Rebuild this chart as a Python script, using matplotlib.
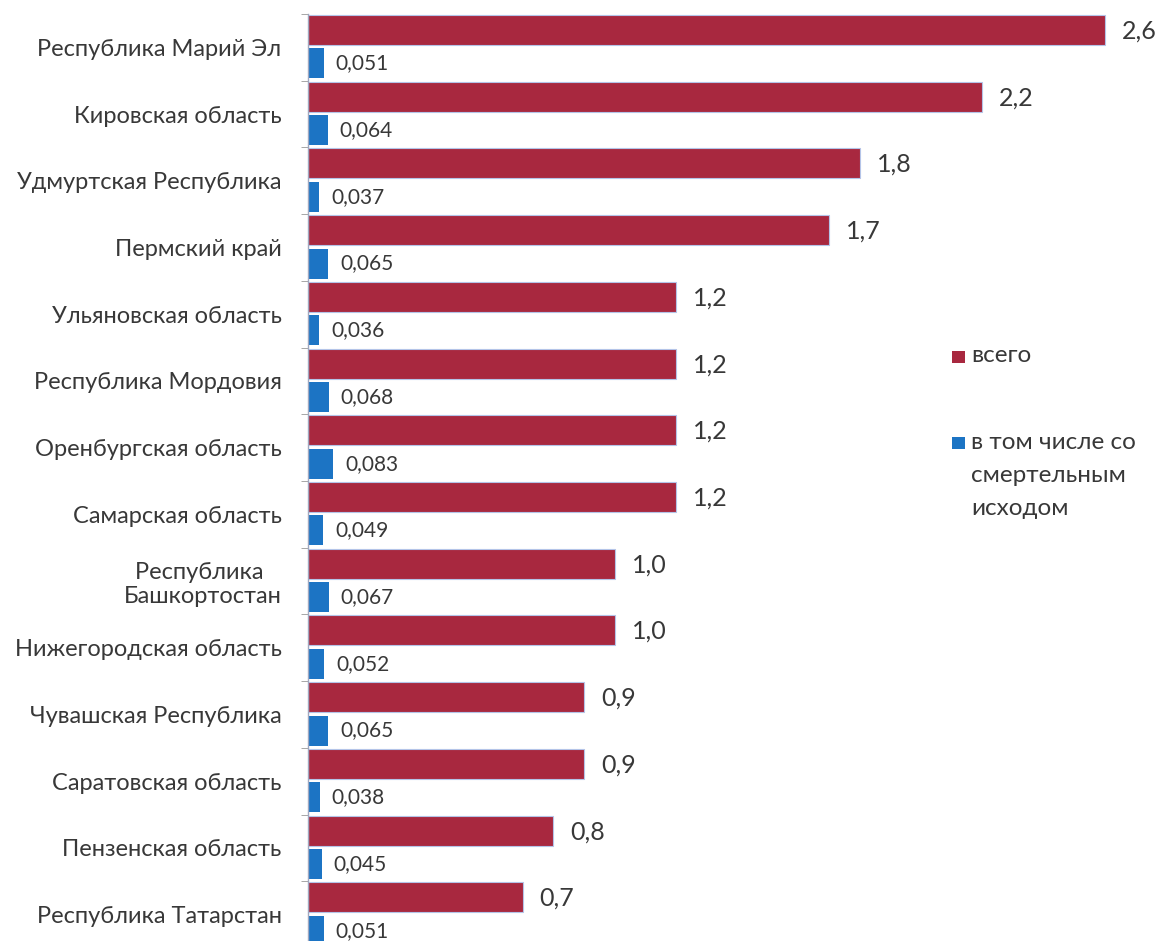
import matplotlib
matplotlib.use("Agg")
import matplotlib.pyplot as plt
import numpy as np
from matplotlib.patches import Rectangle

categories = ["Республика Марий Эл", "Кировская область", "Удмуртская Республика",
              "Пермский край", "Ульяновская область", "Республика Мордовия",
              "Оренбургская область", "Самарская область", "Республика \nБашкортостан",
              "Нижегородская область", "Чувашская Республика", "Саратовская область",
              "Пензенская область", "Республика Татарстан"]
total = [2.6, 2.2, 1.8, 1.7, 1.2, 1.2, 1.2, 1.2, 1.0, 1.0, 0.9, 0.9, 0.8, 0.7]
fatal = [0.051, 0.064, 0.037, 0.065, 0.036, 0.068, 0.083, 0.049, 0.067, 0.052,
         0.065, 0.038, 0.045, 0.051]
total_labels = ["2,6", "2,2", "1,8", "1,7", "1,2", "1,2", "1,2", "1,2", "1,0", "1,0",
                "0,9", "0,9", "0,8", "0,7"]
fatal_labels = ["0,051", "0,064", "0,037", "0,065", "0,036", "0,068", "0,083", "0,049",
                "0,067", "0,052", "0,065", "0,038", "0,045", "0,051"]
legend_labels = ["всего", "в том числе со\nсмертельным\nисходом"]

RED = "#A8283F"
BLUE = "#1C74C4"
TXT = "#383838"
FONT = ["Lato", "DejaVu Sans"]
plt.rcParams['font.family'] = FONT

W, H = 1158, 941
fig = plt.figure(figsize=(W / 100, H / 100), dpi=100)
left_px, right_px = 308, 1158
top_px, bot_px = 14, 948
ax = fig.add_axes([left_px / W, (H - bot_px) / H, (right_px - left_px) / W, (bot_px - top_px) / H])
xmax = (right_px - left_px) / 306.5
ax.set_xlim(0, xmax)
ax.set_ylim(len(categories) - 0.5, -0.5)

y = np.arange(len(categories))
bh = 0.45
ax.barh(y - 0.26, total, height=bh, color=RED, edgecolor="#B4C4E8", linewidth=0.8)
ax.barh(y + 0.24, fatal, height=bh, color=BLUE, edgecolor="none")

for i in range(len(categories)):
    ax.annotate(total_labels[i], (total[i], y[i] - 0.26), xytext=(17, -1), textcoords="offset pixels",
                ha="left", va="center", fontsize=18, color=TXT)
    ax.annotate(fatal_labels[i], (fatal[i], y[i] + 0.24), xytext=(12, 0), textcoords="offset pixels",
                ha="left", va="center", fontsize=15, color=TXT, annotation_clip=False)

ax.set_yticks(y)
ax.set_yticklabels(categories, fontsize=17, color=TXT, multialignment="center")
ax.tick_params(axis="y", which="major", length=0, pad=19)
ax.set_yticks(np.arange(-0.5, len(categories), 1), minor=True)
ax.tick_params(axis="y", which="minor", length=5, color="#999999")
ax.set_xticks([])
for s in ["top", "right", "bottom"]:
    ax.spines[s].set_visible(False)
ax.spines["left"].set_color("#A0A8C0")
ax.spines["left"].set_linewidth(1.0)

# legend drawn manually in figure pixel coordinates
def fx(px):
    return px / W

def fy(py):
    return 1 - py / H

fig.patches.append(Rectangle((fx(952), fy(363)), 13 / W, 12 / H, transform=fig.transFigure,
                             facecolor=RED, edgecolor="none"))
fig.text(fx(971), fy(356), legend_labels[0], ha="left", va="center", fontsize=17.5, color=TXT)
fig.patches.append(Rectangle((fx(952), fy(449)), 13 / W, 12 / H, transform=fig.transFigure,
                             facecolor=BLUE, edgecolor="none"))
fig.text(fx(971), fy(432), legend_labels[1], ha="left", va="top", fontsize=17.5, color=TXT,
         linespacing=1.72)

fig.savefig("out.png", dpi=100)
